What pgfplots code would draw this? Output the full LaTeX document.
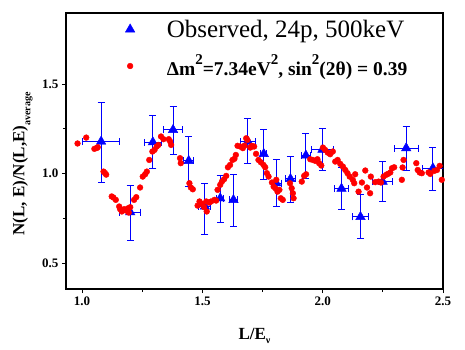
\documentclass[border=0pt]{standalone}
\usepackage{pgfplots}
\pgfplotsset{compat=1.18}
\usepackage{fontspec}
\setmainfont{Liberation Serif}
\newcommand\sq{\raisebox{11pt}{\fontsize{15}{15}\selectfont 2}}
\pgfplotstableread{
x y xe yp ym
1.079 1.179 0.077 0.218 0.227
1.200 0.784 0.043 0.149 0.158
1.294 1.175 0.035 0.147 0.149
1.378 1.244 0.040 0.130 0.140
1.443 1.071 0.020 0.136 0.144
1.510 0.816 0.025 0.128 0.159
1.574 0.862 0.015 0.127 0.134
1.629 0.853 0.015 0.141 0.149
1.689 1.179 0.030 0.126 0.121
1.755 1.110 0.012 0.134 0.145
1.807 0.946 0.020 0.130 0.130
1.866 0.970 0.020 0.125 0.130
1.930 1.101 0.020 0.124 0.131
1.999 1.134 0.045 0.117 0.117
2.078 0.916 0.030 0.118 0.119
2.157 0.758 0.035 0.125 0.123
2.249 0.955 0.040 0.114 0.110
2.347 1.142 0.050 0.121 0.127
2.458 1.030 0.045 0.117 0.125
}\obs
\pgfplotstableread{
x y
0.981 1.168
1.017 1.201
1.051 1.138
1.061 1.143
1.065 1.147
1.089 1.011
1.095 1.003
1.100 0.994
1.123 0.872
1.130 0.866
1.140 0.853
1.154 0.816
1.158 0.801
1.165 0.788
1.175 0.801
1.183 0.793
1.191 0.806
1.194 0.782
1.200 0.812
1.216 0.853
1.225 0.868
1.241 0.922
1.252 0.983
1.262 0.996
1.269 1.011
1.279 1.076
1.292 1.123
1.301 1.132
1.310 1.151
1.317 1.160
1.328 1.207
1.338 1.192
1.360 1.192
1.366 1.179
1.370 1.160
1.407 1.086
1.410 1.058
1.446 0.946
1.452 0.922
1.460 0.912
1.480 0.821
1.488 0.844
1.498 0.831
1.507 0.812
1.516 0.844
1.518 0.788
1.528 0.838
1.536 0.844
1.550 0.853
1.557 0.849
1.563 0.909
1.574 0.937
1.581 0.955
1.590 0.968
1.599 0.987
1.606 1.035
1.615 1.048
1.625 1.076
1.633 1.082
1.639 1.104
1.646 1.155
1.657 1.151
1.668 1.142
1.675 1.156
1.682 1.197
1.687 1.188
1.699 1.145
1.705 1.155
1.715 1.151
1.723 1.110
1.733 1.076
1.743 1.063
1.754 1.048
1.761 1.035
1.768 1.002
1.775 0.983
1.789 0.950
1.796 0.927
1.803 0.918
1.807 0.965
1.812 0.899
1.820 0.909
1.826 0.862
1.834 0.853
1.864 0.946
1.871 0.918
1.876 0.890
1.879 0.862
1.913 0.955
1.923 0.987
1.931 0.996
1.948 1.080
1.959 1.076
1.969 1.071
1.978 1.080
1.985 1.058
1.994 1.045
2.001 1.145
2.010 1.132
2.021 1.117
2.031 1.108
2.042 1.123
2.052 1.067
2.062 1.076
2.073 1.054
2.084 1.039
2.094 1.020
2.103 1.002
2.112 0.983
2.125 0.965
2.131 0.946
2.135 0.996
2.149 0.899
2.163 0.950
2.177 1.017
2.184 0.922
2.197 0.890
2.200 0.983
2.218 0.952
2.232 0.955
2.242 0.950
2.253 0.983
2.264 0.993
2.271 0.998
2.281 1.006
2.288 1.030
2.297 1.035
2.329 0.965
2.332 1.034
2.336 1.076
2.389 1.058
2.395 1.020
2.403 1.006
2.412 1.002
2.440 1.006
2.447 0.998
2.464 1.015
2.475 1.020
2.486 1.043
2.495 0.965
}\model
\begin{document}
\begin{tikzpicture}
\path[use as bounding box] (-66pt,-61pt) rectangle (399pt,289pt);
\begin{axis}[
  scale only axis, width=377pt, height=276pt,
  xmin=0.933, xmax=2.5, ymin=0.355, ymax=1.897,
  axis line style={line width=1.2pt},
  tick align=outside, tick pos=left,
  xtick={1.0,1.5,2.0,2.5}, ytick={0.5,1.0,1.5},
  minor tick num=1,
  major tick length=4pt, minor tick length=3pt,
  tick style={black, line width=1pt},
  ticklabel style={font=\fontsize{13}{15}\selectfont\bfseries},
  xticklabel style={/pgf/number format/.cd, fixed, fixed zerofill, precision=1, assume math mode=true},
  yticklabel style={/pgf/number format/.cd, fixed, fixed zerofill, precision=1, assume math mode=true},
  xlabel={\bfseries L/E\raisebox{-4pt}{\fontsize{10}{12}\selectfont ν}},
  ylabel={\bfseries N(L, E)/N(L,E)\raisebox{-6pt}{\fontsize{10}{12}\selectfont average}},
  xlabel style={font=\fontsize{17}{20}\selectfont, at={(axis description cs:0.5,-0.17)}, anchor=center},
  ylabel style={font=\fontsize{17}{20}\selectfont, at={(axis description cs:-0.115,0.453)}, anchor=center},
  legend style={draw=none, fill=none, at={(axis description cs:0.149,0.99)}, anchor=north west,
    font=\fontsize{25}{28}\selectfont, row sep=12pt, column sep=30pt},
  legend cell align=left,
]
\addplot[only marks, mark=triangle*, mark size=5.5pt, color=blue, mark options={blue, fill=blue},
  error bars/.cd, x dir=both, x explicit, y dir=both, y explicit,
  error bar style={line width=1pt, blue},
  error mark=-,
  error mark options={rotate=90, blue, mark size=3.5pt, line width=1pt}]
  table[x=x, y=y, x error=xe, y error plus=yp, y error minus=ym] {\obs};
\addlegendentry{Observed, 24p, 500keV}
\addplot[only marks, mark=*, mark size=2.9pt, color=red, mark options={draw=red, fill=red}]
  table[x=x, y=y] {\model};
\addlegendentry{\fontsize{19.5}{22}\selectfont\bfseries Δm\sq=7.34eV\sq, sin\sq(2θ) = 0.39}
\end{axis}
\end{tikzpicture}
\end{document}
